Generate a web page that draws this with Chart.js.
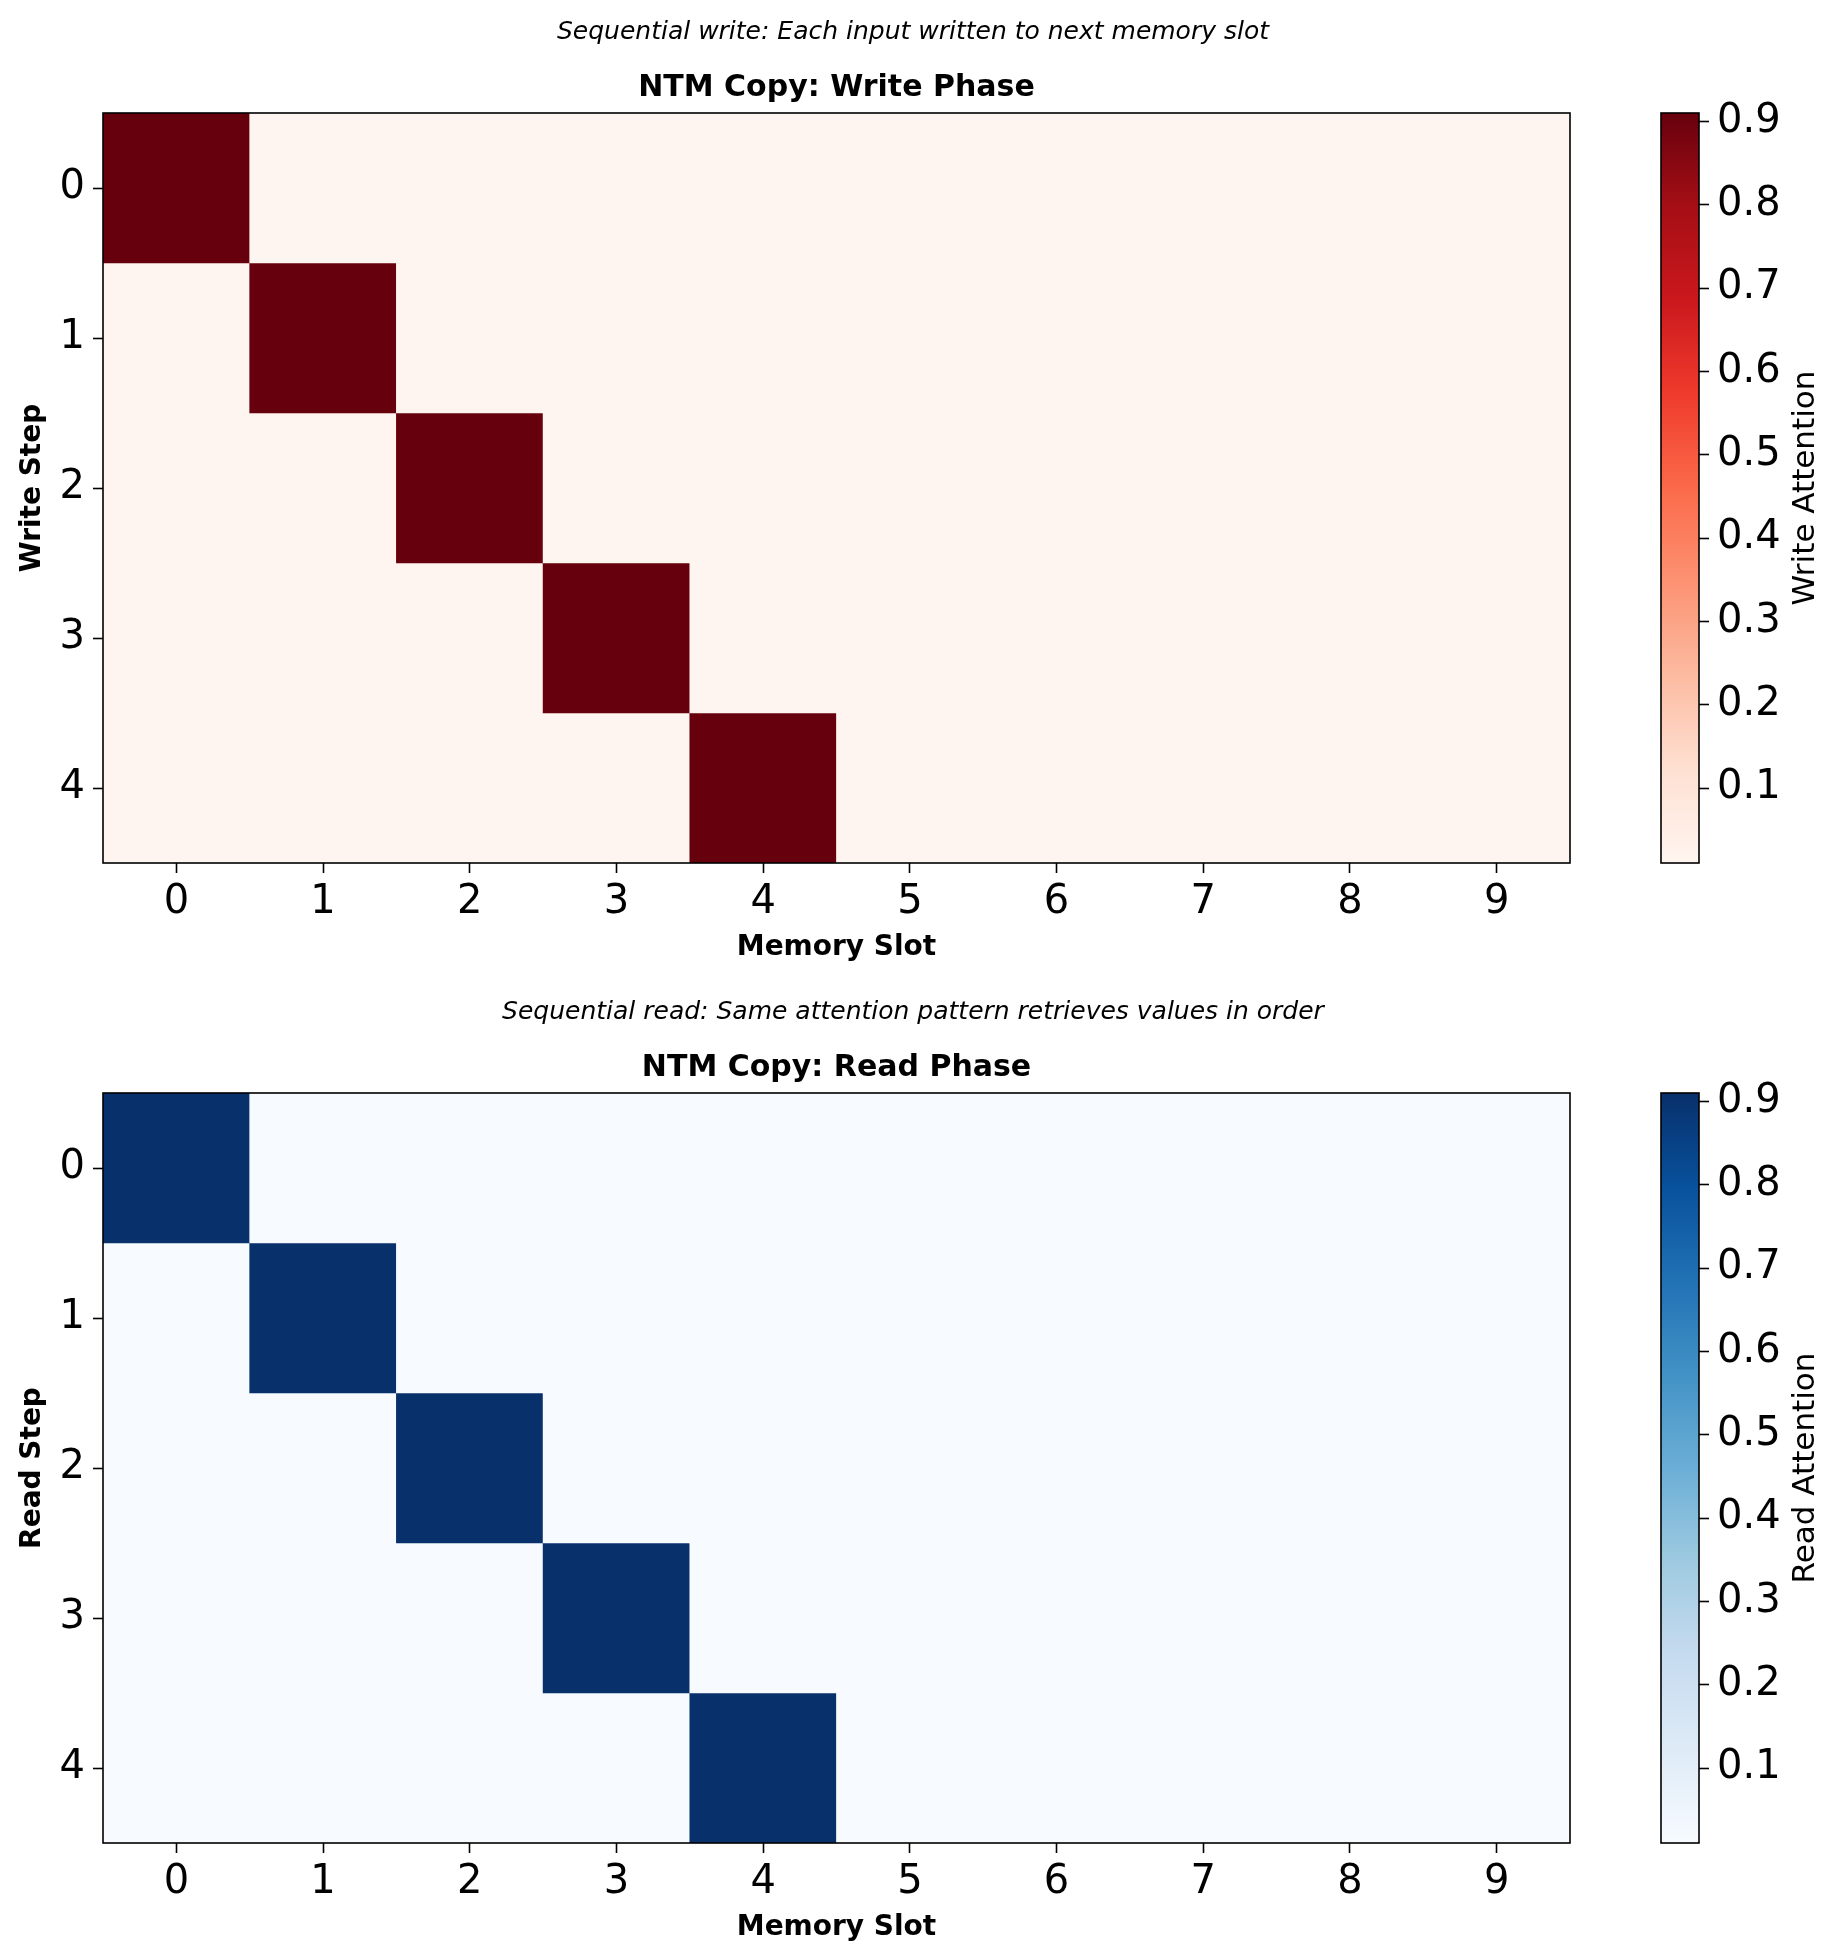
<!DOCTYPE html>
<html>
<head>
<meta charset="utf-8">
<title>NTM Copy attention</title>
<script src="https://cdn.jsdelivr.net/npm/chart.js@4.4.1/dist/chart.umd.min.js"></script>
<style>
  html, body { margin: 0; padding: 0; background: #fff; }
  #wrap { position: relative; width: 1844px; height: 1960px; }
  canvas { position: absolute; }
</style>
</head>
<body>
<div id="wrap">
  <canvas id="writeMap" width="1844" height="965" style="left:0;top:0"></canvas>
  <canvas id="writeBar" width="223" height="830" style="left:1621px;top:73px"></canvas>
  <canvas id="readMap" width="1844" height="965" style="left:0;top:980px"></canvas>
  <canvas id="readBar" width="223" height="830" style="left:1621px;top:1053px"></canvas>
</div>
<script>
// data
const memorySlots = ['0', '1', '2', '3', '4', '5', '6', '7', '8', '9'];
const writeSteps = [0, 1, 2, 3, 4];
const readSteps = [0, 1, 2, 3, 4];

const writeAttention = [
  [0.91, 0.01, 0.01, 0.01, 0.01, 0.01, 0.01, 0.01, 0.01, 0.01],
  [0.01, 0.91, 0.01, 0.01, 0.01, 0.01, 0.01, 0.01, 0.01, 0.01],
  [0.01, 0.01, 0.91, 0.01, 0.01, 0.01, 0.01, 0.01, 0.01, 0.01],
  [0.01, 0.01, 0.01, 0.91, 0.01, 0.01, 0.01, 0.01, 0.01, 0.01],
  [0.01, 0.01, 0.01, 0.01, 0.91, 0.01, 0.01, 0.01, 0.01, 0.01]
];
const readAttention = [
  [0.91, 0.01, 0.01, 0.01, 0.01, 0.01, 0.01, 0.01, 0.01, 0.01],
  [0.01, 0.91, 0.01, 0.01, 0.01, 0.01, 0.01, 0.01, 0.01, 0.01],
  [0.01, 0.01, 0.91, 0.01, 0.01, 0.01, 0.01, 0.01, 0.01, 0.01],
  [0.01, 0.01, 0.01, 0.91, 0.01, 0.01, 0.01, 0.01, 0.01, 0.01],
  [0.01, 0.01, 0.01, 0.01, 0.91, 0.01, 0.01, 0.01, 0.01, 0.01]
];
const colorbarTicks = [0.1, 0.2, 0.3, 0.4, 0.5, 0.6, 0.7, 0.8, 0.9];

// matplotlib Reds / Blues
const reds = ['#fff5f0', '#fee0d2', '#fcbba1', '#fc9272', '#fb6a4a', '#ef3b2c', '#cb181d', '#a50f15', '#67000d'];
const blues = ['#f7fbff', '#deebf7', '#c6dbef', '#9ecae1', '#6baed6', '#4292c6', '#2171b5', '#08519c', '#08306b'];

Chart.defaults.font.family = '"DejaVu Sans", sans-serif';
Chart.defaults.color = '#000';

function hexToRgb(h) {
  return [parseInt(h.slice(1, 3), 16), parseInt(h.slice(3, 5), 16), parseInt(h.slice(5, 7), 16)];
}

function cmapColor(stops, t) {
  t = Math.max(0, Math.min(1, t));
  const pos = t * (stops.length - 1);
  const i = Math.min(Math.floor(pos), stops.length - 2);
  const f = pos - i;
  const a = hexToRgb(stops[i]), b = hexToRgb(stops[i + 1]);
  const c = a.map((v, k) => Math.round(v + (b[k] - v) * f));
  return 'rgb(' + c.join(',') + ')';
}

// black box round the plot area
const framePlugin = {
  id: 'frame',
  afterDatasetsDraw(chart) {
    const a = chart.chartArea;
    const ctx = chart.ctx;
    ctx.save();
    ctx.strokeStyle = '#000';
    ctx.lineWidth = 1.6;
    ctx.strokeRect(a.left, a.top, a.right - a.left, a.bottom - a.top);
    ctx.restore();
  }
};

const tickGrid = {
  display: true,
  drawOnChartArea: false,
  drawTicks: true,
  offset: false,
  tickLength: 10,
  tickWidth: 1.6,
  tickColor: '#000'
};

function heatmap(id, matrix, steps, stops, yTitle, title, note) {
  const all = matrix.flat();
  const lo = Math.min(...all), hi = Math.max(...all);
  const datasets = steps.map((step, r) => ({
    data: memorySlots.map(() => [step - 0.5, step + 0.5]),
    backgroundColor: matrix[r].map(v => cmapColor(stops, (v - lo) / (hi - lo))),
    borderWidth: 0,
    grouped: false,
    barPercentage: 1,
    categoryPercentage: 1
  }));

  new Chart(document.getElementById(id), {
    type: 'bar',
    data: { labels: memorySlots, datasets: datasets },
    options: {
      responsive: false,
      animation: false,
      layout: { padding: { left: 0, top: 0, bottom: 0, right: 18 } },
      plugins: {
        legend: { display: false },
        tooltip: { enabled: false },
        title: {
          display: true,
          text: note,
          fullSize: true,
          font: { size: 25, style: 'italic', weight: 'normal', lineHeight: 1.2 },
          padding: { top: 17.4, bottom: 0 }
        },
        subtitle: {
          display: true,
          text: title,
          fullSize: false,
          color: '#000',
          font: { size: 30, weight: 'bold', lineHeight: 1.2 },
          padding: { top: 23, bottom: 6.6 }
        }
      },
      scales: {
        x: {
          type: 'category',
          offset: true,
          grid: tickGrid,
          border: { display: false },
          ticks: { font: { size: 40, lineHeight: 1.2 }, padding: 5.5, maxRotation: 0, autoSkip: false },
          title: { display: true, text: 'Memory Slot', font: { size: 28, weight: 'bold', lineHeight: 1.2 }, padding: 0 },
          afterFit: s => { s.height = 102; }
        },
        y: {
          type: 'linear',
          reverse: true,
          min: -0.5,
          max: 4.5,
          afterBuildTicks: s => { s.ticks = steps.map(v => ({ value: v })); },
          grid: tickGrid,
          border: { display: false },
          ticks: { font: { size: 40, lineHeight: 1.2 }, padding: 8, autoSkip: false },
          title: { display: true, text: yTitle, font: { size: 28, weight: 'bold', lineHeight: 1.2 }, padding: { top: 15.5, bottom: 0 } },
          afterFit: s => { s.width = 103; }
        },
        // room for the colorbar so the note centres on the figure
        cbSpace: {
          type: 'linear',
          position: 'right',
          display: true,
          grid: { display: false },
          border: { display: false },
          ticks: { display: false },
          afterFit: s => { s.width = 256; }
        }
      }
    },
    plugins: [framePlugin]
  });
}

function colorbar(id, matrix, stops, label) {
  const all = matrix.flat();
  const lo = Math.min(...all), hi = Math.max(...all);

  const labelPlugin = {
    id: 'cbLabel',
    afterDraw(chart) {
      const a = chart.chartArea;
      const ctx = chart.ctx;
      ctx.save();
      ctx.translate(a.right + 107, (a.top + a.bottom) / 2);
      ctx.rotate(-Math.PI / 2);
      ctx.font = '31px "DejaVu Sans"';
      ctx.fillStyle = '#000';
      ctx.textAlign = 'center';
      ctx.textBaseline = 'middle';
      ctx.fillText(label, 0, 0);
      ctx.restore();
    }
  };

  new Chart(document.getElementById(id), {
    type: 'bar',
    data: {
      labels: [''],
      datasets: [{
        data: [[lo, hi]],
        backgroundColor: c => {
          const a = c.chart.chartArea;
          if (!a) return stops[0];
          const g = c.chart.ctx.createLinearGradient(0, a.bottom, 0, a.top);
          stops.forEach((s, i) => g.addColorStop(i / (stops.length - 1), s));
          return g;
        },
        borderWidth: 0,
        barPercentage: 1,
        categoryPercentage: 1
      }]
    },
    options: {
      responsive: false,
      animation: false,
      layout: { padding: { left: 40, top: 40, bottom: 40, right: 0 } },
      plugins: { legend: { display: false }, tooltip: { enabled: false } },
      scales: {
        x: { display: false },
        y: {
          position: 'right',
          min: lo,
          max: hi,
          afterBuildTicks: s => { s.ticks = colorbarTicks.map(v => ({ value: v })); },
          grid: tickGrid,
          border: { display: false },
          ticks: { font: { size: 40, lineHeight: 1.2 }, padding: 8, callback: v => v.toFixed(1) },
          afterFit: s => { s.width = 145; }
        }
      }
    },
    plugins: [framePlugin, labelPlugin]
  });
}

heatmap('writeMap', writeAttention, writeSteps, reds, 'Write Step', 'NTM Copy: Write Phase',
  'Sequential write: Each input written to next memory slot');
colorbar('writeBar', writeAttention, reds, 'Write Attention');

heatmap('readMap', readAttention, readSteps, blues, 'Read Step', 'NTM Copy: Read Phase',
  'Sequential read: Same attention pattern retrieves values in order');
colorbar('readBar', readAttention, blues, 'Read Attention');
</script>
</body>
</html>
